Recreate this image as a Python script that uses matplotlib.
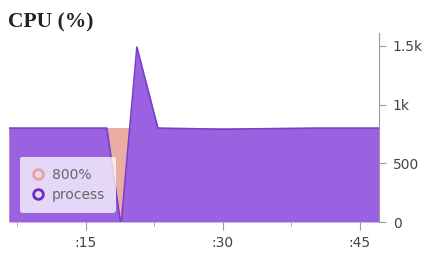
import matplotlib
matplotlib.use("Agg")
import matplotlib.pyplot as plt
from matplotlib.ticker import FixedLocator, FuncFormatter

# ── data (minutes past the hour, CPU %) ──────────────────────────────────────
limit_t   = [6.6, 47.1]
limit_v   = [800, 800]

proc_t    = [6.6, 17.3, 18.8, 18.9, 20.6, 22.9, 30.0, 40.0, 47.1]
proc_v    = [800, 800, 0, 0, 1490, 800, 790, 800, 800]

xticks_major = [15, 30, 45]
xticks_minor = [7.5, 22.5, 37.5]
yticks       = [0, 500, 1000, 1500]
ytick_labels = ["0", "500", "1k", "1.5k"]

SALMON = "#e8a49a"
PURPLE = "#9a62e0"
EDGE   = "#7a3fc8"

fig = plt.figure(figsize=(4.28, 2.57), dpi=100)
ax = fig.add_axes([9 / 428, 1 - 222 / 257, 370 / 428, 189 / 257])

ax.fill_between(limit_t, limit_v, color=SALMON, alpha=0.9, lw=0)
ax.fill_between(proc_t, proc_v, color=PURPLE, lw=0)
ax.plot(proc_t, proc_v, color=EDGE, lw=1.2)

ax.set_xlim(limit_t[0], limit_t[1])
ax.set_ylim(0, 1610)

for s in ["top", "left", "bottom"]:
    ax.spines[s].set_visible(False)
ax.spines["right"].set_color("#999999")
ax.yaxis.tick_right()
ax.set_yticks(yticks)
ax.set_yticklabels(ytick_labels)
ax.tick_params(axis="y", colors="#999999", labelcolor="#444444",
               labelsize=10, length=5, pad=5)

ax.xaxis.set_major_locator(FixedLocator(xticks_major))
ax.xaxis.set_minor_locator(FixedLocator(xticks_minor))
ax.xaxis.set_major_formatter(FuncFormatter(lambda v, p: f":{int(v)}"))
ax.tick_params(axis="x", which="major", colors="#999999", labelcolor="#444444",
               labelsize=10, length=6, pad=4)
ax.tick_params(axis="x", which="minor", colors="#999999", length=3)

# legend
h1 = ax.plot([], [], "o", mfc="none", mec=SALMON, mew=2, ms=7)[0]
h2 = ax.plot([], [], "o", mfc="none", mec="#6a2fc0", mew=2, ms=7)[0]
leg = ax.legend([h1, h2], ["800%", "process"], loc="lower left",
                bbox_to_anchor=(0.01, 0.01), fontsize=10, frameon=True,
                handletextpad=0.5, borderpad=0.8, labelspacing=0.45,
                handlelength=1.0)
leg.get_frame().set_facecolor("white")
leg.get_frame().set_alpha(0.75)
leg.get_frame().set_edgecolor("none")
for t in leg.get_texts():
    t.set_color("#666666")

fig.text(8 / 428, 1 - 27 / 257, "CPU (%)", family="Liberation Serif",
         fontweight="bold", fontsize=15.5, color="#222222", va="baseline")

fig.savefig("out.png", dpi=100)
